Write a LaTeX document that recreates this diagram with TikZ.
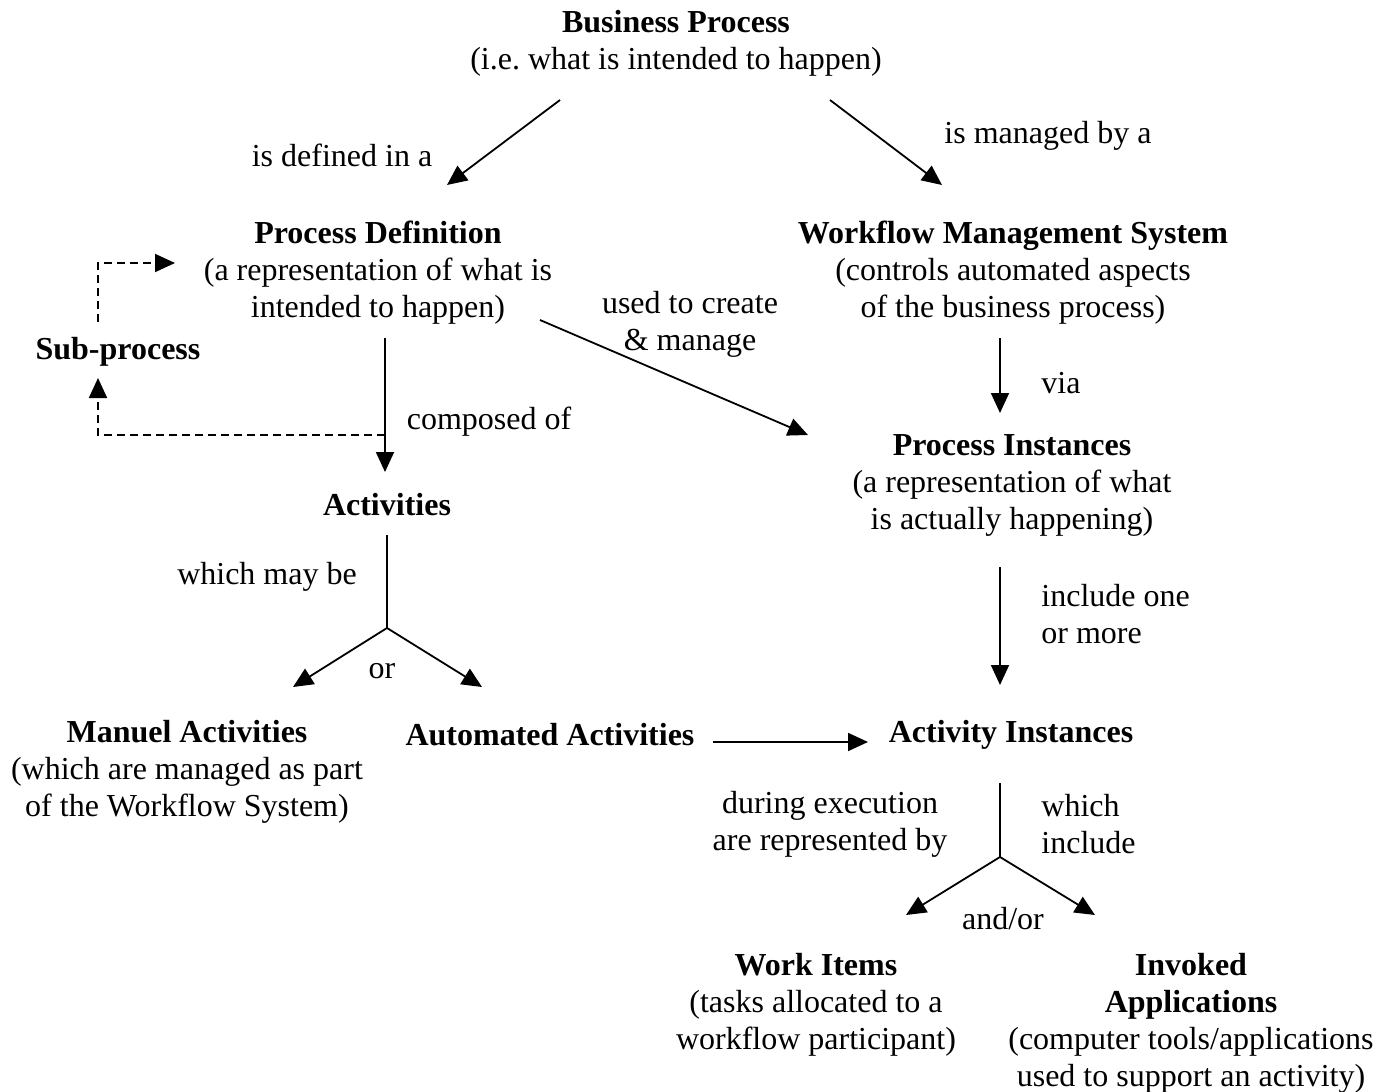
\documentclass[tikz,border=0pt]{standalone}
\usepackage{fontspec}
\setmainfont{Liberation Serif}
\usetikzlibrary{arrows.meta,positioning}
\frenchspacing

\begin{document}
\begin{tikzpicture}[x=0.5pt,y=-0.5pt,
  every node/.style={inner sep=0pt,font=\fontsize{16}{18.5}\selectfont},
  txt/.style={align=center},
  lft/.style={align=left,anchor=west},
  arr/.style={-{Triangle[length=10pt,width=9pt]},line width=0.9pt},
  dsh/.style={arr,dash pattern=on 4pt off 2.5pt}]
\useasboundingbox (0,0) rectangle (1389,1092);

% boxes of text
\node[txt] (bp) at (676,43) {\textbf{Business Process}\\(i.e.\ what is intended to happen)};
\node[txt] (pd) at (378,273) {\textbf{Process Definition}\\(a representation of what is\\intended to happen)};
\node[txt] (wms) at (1013,273) {\textbf{Workflow Management System}\\(controls automated aspects\\of the business process)};
\node[txt] (sp) at (118,352) {\textbf{Sub-process}};
\node[txt] (act) at (387,505) {\textbf{Activities}};
\node[txt] (pi) at (1012,485) {\textbf{Process Instances}\\(a representation of what\\is actually happening)};
\node[txt] (ma) at (187,772) {\textbf{Manuel Activities}\\(which are managed as part\\of the Workflow System)};
\node[txt] (aa) at (550,735) {\textbf{Automated Activities}};
\node[txt] (ai) at (1011,735) {\textbf{Activity Instances}};
\node[txt] (wi) at (816,1005) {\textbf{Work Items}\\(tasks allocated to a\\workflow participant)};
\node[txt] (ia) at (1191,1023) {\textbf{Invoked}\\\textbf{Applications}\\(computer tools/applications\\used to support an activity)};

% labels
\node (l1) at (342,155) {is defined in a};
\node (l2) at (1048,136) {is managed by a};
\node[txt] (l3) at (690,324) {used to create\\\& manage};
\node (l4) at (489,422) {composed of};
\node (l5) at (1061,383) {via};
\node[lft] (l6) at (1041,614) {include one\\or more};
\node (l7) at (267,577) {which may be};
\node (l8) at (382,671) {or};
\node[txt] (l9) at (830,824) {during execution\\are represented by};
\node[lft] (l10) at (1041,824) {which\\include};
\node (l11) at (1003,919) {and/or};

% end points
\coordinate (bpl) at (560,100);
\coordinate (pdin) at (447,185);
\coordinate (bpr) at (830,100);
\coordinate (wmsin) at (942,185);
\coordinate (pdout) at (385,338);
\coordinate (actin) at (385,472);
\coordinate (split) at (385,435);
\coordinate (spin) at (98,378);
\coordinate (spout) at (98,322);
\coordinate (pdleft) at (175,263);
\coordinate (pdr) at (540,320);
\coordinate (piin) at (808,435);
\coordinate (wmsout) at (1000,338);
\coordinate (pitop) at (1000,413);
\coordinate (piout) at (1000,567);
\coordinate (aitop) at (1000,685);
\coordinate (acttail) at (387,535);
\coordinate (fork1) at (387,628);
\coordinate (mahead) at (293,687);
\coordinate (aahead) at (482,687);
\coordinate (aaout) at (713,742);
\coordinate (aiin) at (868,742);
\coordinate (aitail) at (1000,783);
\coordinate (fork2) at (1000,857);
\coordinate (wihead) at (906,915);
\coordinate (iahead) at (1095,915);

\draw[arr] (bpl) -- (pdin);
\draw[arr] (bpr) -- (wmsin);
\draw[arr] (pdout) -- (actin);
\draw[dsh] (split) -| (spin);
\draw[dsh] (spout) |- (pdleft);
\draw[arr] (pdr) -- (piin);
\draw[arr] (wmsout) -- (pitop);
\draw[arr] (piout) -- (aitop);
\draw[line width=0.9pt] (acttail) -- (fork1);
\draw[arr] (fork1) -- (mahead);
\draw[arr] (fork1) -- (aahead);
\draw[arr] (aaout) -- (aiin);
\draw[line width=0.9pt] (aitail) -- (fork2);
\draw[arr] (fork2) -- (wihead);
\draw[arr] (fork2) -- (iahead);

\end{tikzpicture}
\end{document}
